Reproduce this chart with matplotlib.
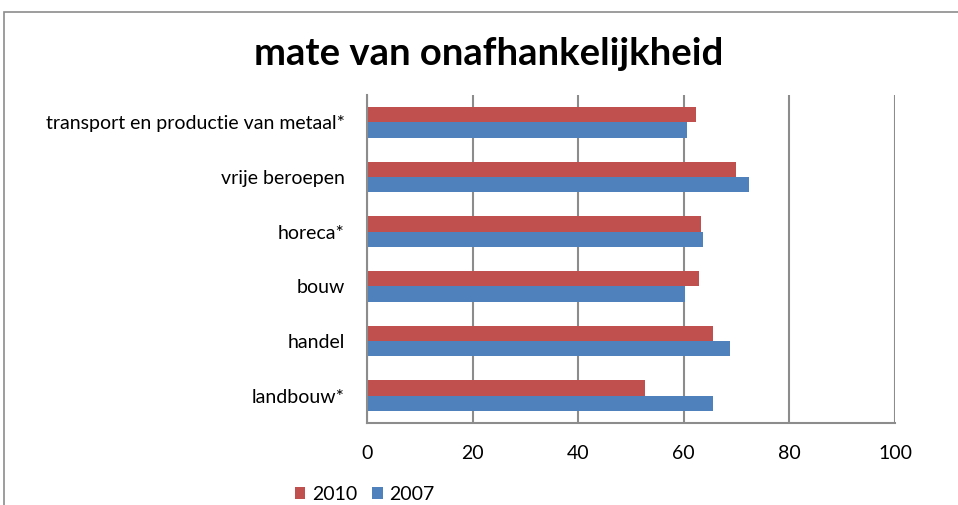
import matplotlib.pyplot as plt
from matplotlib.patches import Rectangle
import numpy as np

categories = ["landbouw*", "handel", "bouw", "horeca*", "vrije beroepen",
              "transport en productie van metaal*"]
values_2010 = [52.6, 65.6, 62.9, 63.3, 69.8, 62.3]
values_2007 = [65.6, 68.7, 60.2, 63.7, 72.3, 60.7]
x_ticks = [0, 20, 40, 60, 80, 100]

RED = "#C0504D"
BLUE = "#4F81BD"
GRID = "#8C8C8C"


def main():
    plt.rcParams["font.family"] = ["Lato", "DejaVu Sans"]

    fig = plt.figure(figsize=(9.58, 5.05), dpi=100)
    ax = fig.add_axes([367 / 958, 1 - 423 / 505, 528 / 958, 328 / 505])

    y = np.arange(len(categories))
    h = 0.28
    ax.barh(y + h / 2, values_2010, height=h, color=RED, label="2010")
    ax.barh(y - h / 2, values_2007, height=h, color=BLUE, label="2007")

    ax.set_xlim(0, 100)
    ax.set_ylim(-0.5, len(categories) - 0.5)
    ax.set_xticks(x_ticks)
    ax.set_yticks(y)
    ax.set_yticklabels(categories)
    ax.tick_params(axis="both", length=0, labelsize=14, colors="black")
    ax.tick_params(axis="y", pad=16)
    ax.tick_params(axis="x", pad=16)

    ax.set_axisbelow(True)
    ax.grid(axis="x", color=GRID, linewidth=1.5)
    for side in ["top", "right"]:
        ax.spines[side].set_visible(False)
    for side in ["left", "bottom"]:
        ax.spines[side].set_color(GRID)
        ax.spines[side].set_linewidth(1.5)

    fig.text(489 / 958, 1 - 54 / 505, "mate van onafhankelijkheid",
             ha="center", va="center", fontsize=27.5, fontweight="bold")

    fig.legend(loc="lower left", bbox_to_anchor=(277 / 958, -0.03), ncol=2,
               frameon=False, fontsize=14, handlelength=0.55, handleheight=0.55,
               handletextpad=0.35, columnspacing=0.75)

    fig.patches.append(Rectangle((4 / 958, -0.1), 1.2, 1 - 12 / 505 + 0.1,
                                 transform=fig.transFigure, fill=False,
                                 edgecolor="#8C8C8C", linewidth=1.2))

    fig.savefig("out.png", dpi=100)


if __name__ == "__main__":
    main()
